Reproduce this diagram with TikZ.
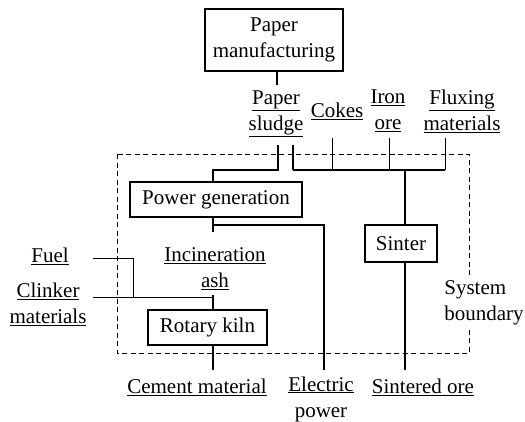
\documentclass[tikz,border=0pt]{standalone}
\usepackage{fontspec}
\setmainfont{Liberation Serif}
\begin{document}
\begin{tikzpicture}[x=1pt,y=-1pt,
  every node/.style={font=\fontsize{21}{26}\selectfont, inner sep=0pt, align=center},
  procbox/.style={draw, line width=1.1pt},
  lbl/.style={},
  thk/.style={line width=2.2pt},
  med/.style={line width=1.4pt},
  thn/.style={line width=1pt},
  bnd/.style={dashed, line width=1pt, dash pattern=on 5pt off 3.5pt}]
\useasboundingbox (0,0) rectangle (525,421);
% system boundary
\draw[bnd] (117,154) rectangle (469,353);
% nodes
\node[procbox, minimum width=138pt, minimum height=62pt] (pm) at (274,40) {Paper\\manufacturing};
\node (ps) at (276,114) {\underline{Paper}\\\underline{sludge}};
\node (ck) at (337,111) {\underline{Cokes}};
\node (io) at (388,111) {\underline{Iron}\\\underline{ore}};
\node (fm) at (462,111) {\underline{Fluxing}\\\underline{materials}};
\node[procbox, minimum width=172pt, minimum height=35pt] (pg) at (216,199.5) {Power generation};
\node[procbox, minimum width=72pt, minimum height=37pt] (sn) at (401,243.5) {Sinter};
\node (ia) at (215,269) {\underline{Incineration}\\\underline{ash}};
\node (fu) at (50,256) {\underline{Fuel}};
\node (cl) at (48,304) {\underline{Clinker}\\\underline{materials}};
\node[procbox, minimum width=119pt, minimum height=35pt] (rk) at (207.5,327.5) {Rotary kiln};
\node (cm) at (197,387) {\underline{Cement material}};
\node (ep) at (321,400) {\underline{Electric}\\\underline{power}};
\node (so) at (423,387) {\underline{Sintered ore}};
\node[fill=white, align=left, inner sep=2pt] (sb) at (484,303) {System\\boundary};
% coordinates
\coordinate (s1) at (278,145);
\coordinate (s2) at (293,145);
\coordinate (j) at (293,170);
\coordinate (ckb) at (332,138);
\coordinate (iob) at (389,138);
\coordinate (fmb) at (445,138);
\coordinate (fue) at (93,258);
\coordinate (cle) at (93,297);
\coordinate (pgb) at (213,217);
\coordinate (pge) at (213,225);
\coordinate (iat) at (213,297);
\coordinate (rkb) at (213,345);
% connectors
\draw[thk] (pm.south -| 277,0) -- (277,85);
\draw[thk] (s1) -- (278,170) -- (213,170) -- (213,182);
\draw[med] (j) -- (445,170);
\draw[thk] (s2) -- (j);
\draw[thk] (405,170) -- (405,225);
\draw[thn] (ckb) -- (332,170);
\draw[thn] (iob) -- (389,170);
\draw[thn] (fmb) -- (445,170);
\draw[thk] (pgb) -- (213,232);
\draw[med] (pge) -- (324,225) -- (324,370);
\draw[thk] (405,262) -- (405,370);
\draw[thn] (fue) -- (133,258) -- (133,297);
\draw[thn] (cle) -- (iat);
\draw[thk] (213,295) -- (213,310);
\draw[thk] (rkb) -- (213,370);
\end{tikzpicture}
\end{document}
